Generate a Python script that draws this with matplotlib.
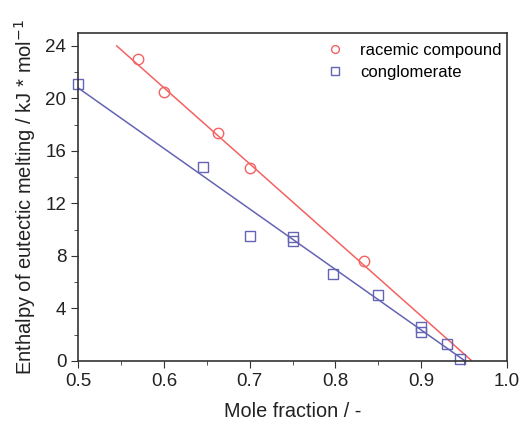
import matplotlib
matplotlib.use("Agg")
import matplotlib.pyplot as plt
from matplotlib.ticker import MultipleLocator

plt.rcParams["font.family"] = ["Liberation Sans", "DejaVu Sans"]

# racemic compound (circles)
rac_x = [0.57, 0.60, 0.663, 0.70, 0.833]
rac_y = [23.0, 20.5, 17.4, 14.7, 7.6]
rac_fit_x = [0.545, 0.959]
rac_fit_y = [24.0, 0.0]

# conglomerate (squares)
con_x = [0.50, 0.646, 0.70, 0.75, 0.75, 0.797, 0.85, 0.90, 0.90, 0.93, 0.945]
con_y = [21.1, 14.8, 9.5, 9.4, 9.1, 6.6, 5.0, 2.6, 2.2, 1.3, 0.15]
con_fit_x = [0.50, 0.951]
con_fit_y = [20.8, 0.0]

RED = "#f46262"
BLUE = "#6464b4"

fig = plt.figure(figsize=(5.21, 4.26), dpi=100)
ax = fig.add_axes([0.150, 0.153, 0.823, 0.770])

ax.plot(rac_fit_x, rac_fit_y, color=RED, lw=1.1)
ax.plot(con_fit_x, con_fit_y, color=BLUE, lw=1.1)
ax.plot(rac_x, rac_y, "o", ms=7.5, mfc="none", mec=RED, mew=1.0,
        label="racemic compound", clip_on=False)
ax.plot(con_x, con_y, "s", ms=7.5, mfc="none", mec=BLUE, mew=1.0,
        label="conglomerate", clip_on=False)

ax.set_xlim(0.5, 1.0)
ax.set_ylim(0, 25)
ax.xaxis.set_major_locator(MultipleLocator(0.1))
ax.xaxis.set_minor_locator(MultipleLocator(0.05))
ax.yaxis.set_major_locator(MultipleLocator(4))
ax.yaxis.set_minor_locator(MultipleLocator(2))
ax.tick_params(which="both", direction="out", top=False, right=False,
               color="#333333", labelsize=13.5, labelcolor="#222222")
ax.tick_params(which="major", length=5)
ax.tick_params(which="minor", length=3)
for s in ax.spines.values():
    s.set_color("#333333")
    s.set_linewidth(1.2)

ax.set_xlabel("Mole fraction / -", fontsize=14.3, color="#222222", labelpad=9)
ax.set_ylabel("Enthalpy of eutectic melting / kJ * mol$^{-1}$", fontsize=14.5,
              color="#222222", labelpad=5)

ax.legend(loc="upper right", bbox_to_anchor=(1.0, 0.985), frameon=False,
          fontsize=12, handletextpad=0.55, borderaxespad=0.0, borderpad=0.3,
          labelspacing=0.45, markerscale=0.75)

fig.savefig("out.png", dpi=100)
